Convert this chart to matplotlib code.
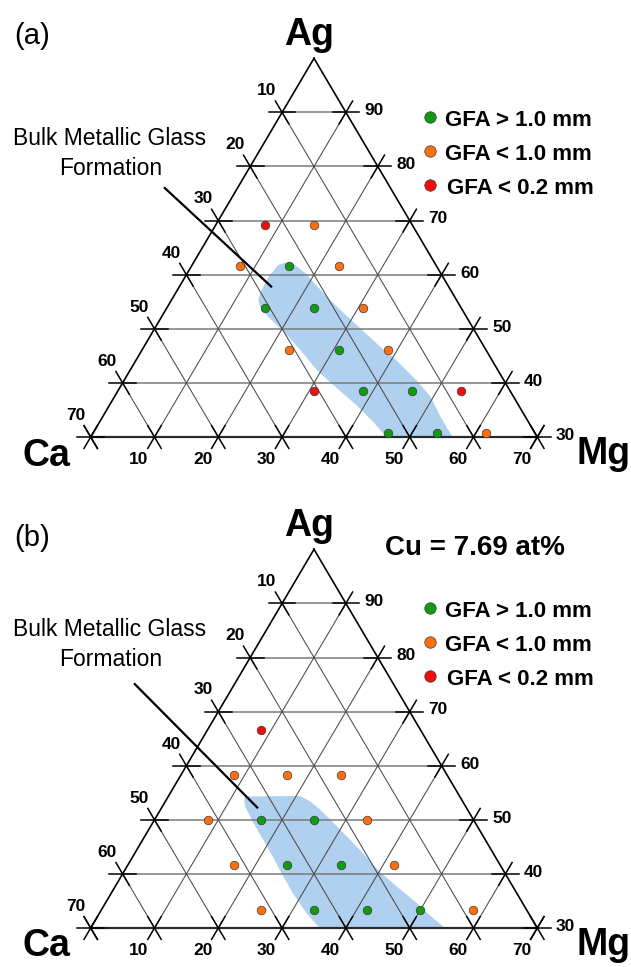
import numpy as np
import matplotlib
matplotlib.use('Agg')
import matplotlib.pyplot as plt
from matplotlib.patches import Polygon

plt.rcParams['font.family'] = ['Liberation Sans', 'DejaVu Sans']

W, H = 631, 967
X0, SX, SY = 90.7, 6.38, 5.41   # pixel of Ca corner, px per at% (horizontal / vertical)

# ---------------- data (at%; Ca = 100 - Ag - Mg) ----------------
A_GREEN_AG = [61.54, 53.85, 53.85, 46.15, 38.46, 38.46, 30.77, 30.77]
A_GREEN_MG = [15.38, 15.38, 23.08, 30.77, 38.46, 46.15, 46.15, 53.85]
A_ORANGE_AG = [69.23, 61.54, 61.54, 53.85, 46.15, 46.15, 30.77]
A_ORANGE_MG = [15.38, 7.69, 23.08, 30.77, 23.08, 38.46, 61.54]
A_RED_AG = [69.23, 38.46, 38.46]
A_RED_MG = [7.69, 30.77, 53.85]

B_GREEN_AG = [50.0, 50.0, 41.67, 41.67, 33.33, 33.33, 33.33]
B_GREEN_MG = [16.67, 25.0, 25.0, 33.33, 33.33, 41.67, 50.0]
B_ORANGE_AG = [58.33, 58.33, 58.33, 50.0, 50.0, 41.67, 41.67, 33.33, 33.33]
B_ORANGE_MG = [8.33, 16.67, 25.0, 8.33, 33.33, 16.67, 41.67, 25.0, 58.33]
B_RED_AG = [66.67]
B_RED_MG = [8.33]

BAND_A_AG = [62.2, 61.8, 60.3, 58.4, 55.3, 52.9, 50.1, 46.7, 44.2, 40.5, 37.5, 33.8,
             30.2, 30.0, 30.0, 32.8, 35.9, 39.0, 42.4, 46.1, 49.5, 52.2, 54.1, 55.3,
             57.2, 59.9, 61.8]
BAND_A_MG = [14.3, 16.1, 18.5, 20.9, 24.9, 28.2, 32.2, 37.0, 40.8, 45.8, 49.5, 52.9,
             56.5, 56.6, 46.3, 42.9, 38.7, 34.1, 29.2, 24.8, 20.5, 16.7, 14.5, 13.6,
             13.2, 13.1, 13.5]

BAND_B_AG = [54.3, 54.4, 53.4, 51.9, 48.2, 43.8, 40.4, 37.7, 34.6, 31.8, 30.0, 30.0,
             32.7, 36.4, 40.7, 45.1, 49.4, 52.5, 53.7]
BAND_B_MG = [12.0, 20.6, 22.7, 25.0, 30.0, 35.8, 40.1, 44.1, 48.8, 52.8, 55.5, 35.9,
             32.5, 28.5, 24.3, 20.1, 15.8, 12.95, 12.2]

LEGEND_LABELS = ['GFA > 1.0 mm', 'GFA < 1.0 mm', 'GFA < 0.2 mm']
CA_TICKS = [10, 20, 30, 40, 50, 60, 70]
AG_TICKS = [90, 80, 70, 60, 50, 40, 30]
MG_TICKS = [10, 20, 30, 40, 50, 60, 70]

C_GREEN, C_ORANGE, C_RED = '#139a13', '#ff6f0f', '#f20c0c'
EDGE = '#3a3a3a'
BAND_COLOR = '#afd0ee'

fig = plt.figure(figsize=(W / 100, H / 100), dpi=100)


def xy(ag, mg):
    ag = np.asarray(ag, float)
    mg = np.asarray(mg, float)
    return mg + (ag - 30.0) / 2.0, ag


def make_axes(top, bottom, base_y):
    ax = fig.add_axes([0, 1 - bottom / H, 1, (bottom - top) / H])
    ax.set_xlim(-X0 / SX, (W - X0) / SX)
    ax.set_ylim(30 - (bottom - base_y) / SY, 30 + (base_y - top) / SY)
    ax.axis('off')
    return ax


def ftext(x, y, s, **kw):
    fig.text(x / W, 1 - y / H, s, **kw)


def draw_triangle(ax):
    for a in range(40, 100, 10):
        x, y = xy([a, a], [0, 100 - a])
        ax.plot(x, y, color='#7a7a7a', lw=1.1, zorder=2)
    for m in range(10, 70, 10):
        x, y = xy([30, 100 - m], [m, m])
        ax.plot(x, y, color='#4a4a4a', lw=0.75, zorder=2)
    for c in range(10, 70, 10):
        x, y = xy([30, 100 - c], [70 - c, 0])
        ax.plot(x, y, color='#4a4a4a', lw=0.75, zorder=2)
    x, y = xy([100, 30, 30, 100], [0, 0, 70, 0])
    ax.plot(x, y, color='black', lw=1.2, zorder=3)
    x, y = xy([30, 30], [0, 70])
    ax.plot(x, y, color='#2a2a2a', lw=1.6, zorder=3)
    L = 2.1
    HD, MD, CD = (0, 1), (1, 0), (1, -1)
    pts = []
    for a in range(30, 100, 10):
        pts += [((a, 0), HD), ((a, 0), CD), ((a, 100 - a), HD), ((a, 100 - a), MD)]
    for m in range(0, 80, 10):
        pts += [((30, m), MD), ((30, m), CD)]
    for (a, m), (da, dm) in pts:
        x, y = xy([a - L * da, a + L * da], [m - L * dm, m + L * dm])
        ax.plot(x, y, color='black', lw=1.1, zorder=3)
    tk = dict(fontsize=12.5, fontweight='bold', ha='center', va='center', zorder=6)
    for c in CA_TICKS:
        x, y = xy([100 - c + 4.0], [-4.0])
        ax.text(x[0] - 0.4, y[0], str(c), **tk)
    for a in AG_TICKS:
        x, y = xy([a + 0.3], [100 - a + 4.3])
        ax.text(x[0], y[0], str(a), **tk)
    for m in MG_TICKS:
        x, y = xy([30 - 4.1], [m])
        ax.text(x[0] - 0.4, y[0], str(m), **tk)


def draw_panel(top, bottom, base_y, dy, greens, oranges, reds, band_ag, band_mg,
               leader, tag):
    ax = make_axes(top, bottom, base_y)

    def p2d(px, py):
        return (px - X0) / SX, 30 + (base_y - py) / SY

    band = np.column_stack(xy(band_ag, band_mg))
    ax.add_patch(Polygon(band, closed=True, facecolor=BAND_COLOR, edgecolor='none', zorder=1))
    draw_triangle(ax)
    for (ag, mg), col in zip([greens, oranges, reds], [C_GREEN, C_ORANGE, C_RED]):
        x, y = xy(ag, mg)
        ax.scatter(x, y, s=38, c=col, edgecolors=EDGE, linewidths=0.5, zorder=5)
    # legend
    for i, (lab, col) in enumerate(zip(LEGEND_LABELS, [C_GREEN, C_ORANGE, C_RED])):
        ly = 117 + dy + 34 * i
        lx, lyd = p2d(429.5, ly)
        ax.scatter([lx], [lyd], s=68, c=col, edgecolors=EDGE, linewidths=0.5,
                   zorder=5, clip_on=False)
        ftext(445 + (2 if i == 2 else 0), ly + 9, lab, fontsize=16, fontweight='bold',
              ha='left', va='baseline')
    # leader line
    (x1, y1), (x2, y2) = leader
    a1, b1 = p2d(x1, y1)
    a2, b2 = p2d(x2, y2)
    ax.plot([a1, a2], [b1, b2], color='black', lw=1.6, zorder=6, solid_capstyle='butt')
    # texts
    ftext(110, 145 + dy, 'Bulk Metallic Glass', fontsize=16.5, ha='center', va='baseline')
    ftext(111, 175 + dy, 'Formation', fontsize=16.5, ha='center', va='baseline')
    ftext(309, 45 + dy, 'Ag', fontsize=27, fontweight='bold', ha='center', va='baseline')
    ftext(46.7, 465.5 + dy, 'Ca', fontsize=27, fontweight='bold', ha='center', va='baseline')
    ftext(576.5, 464 + dy, 'Mg', fontsize=27, fontweight='bold', ha='left', va='baseline')
    ftext(32, tag[1], tag[0], fontsize=21, ha='center', va='center')
    return ax


draw_panel(0, 480, 437, 0,
           (A_GREEN_AG, A_GREEN_MG), (A_ORANGE_AG, A_ORANGE_MG), (A_RED_AG, A_RED_MG),
           BAND_A_AG, BAND_A_MG, ((164, 187.3), (272, 287.3)), ('(a)', 36))
draw_panel(480, 967, 928, 491,
           (B_GREEN_AG, B_GREEN_MG), (B_ORANGE_AG, B_ORANGE_MG), (B_RED_AG, B_RED_MG),
           BAND_B_AG, BAND_B_MG, ((134, 683.3), (258, 808.3)), ('(b)', 538))

ftext(474.5, 555, 'Cu = 7.69 at%', fontsize=20, fontweight='bold', ha='center', va='baseline')

fig.savefig('out.png', dpi=100)
